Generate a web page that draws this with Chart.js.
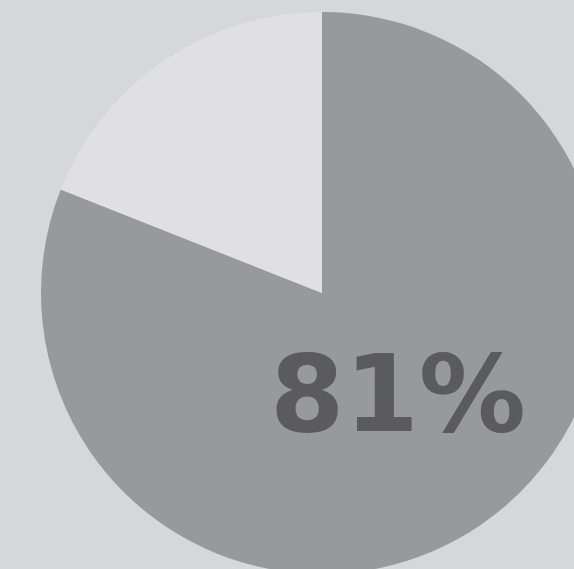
<!DOCTYPE html>
<html>
<head>
<meta charset="utf-8">
<script src="https://cdn.jsdelivr.net/npm/chart.js@4"></script>
<style>
  html, body { margin: 0; padding: 0; }
  body { width: 574px; height: 569px; overflow: hidden; background: #d6d7d8; position: relative; }
  #wrap { position: absolute; left: 41px; top: 12px; width: 562px; height: 562px; }
</style>
</head>
<body>
<div id="wrap"><canvas id="pie" width="562" height="562"></canvas></div>
<script>
var labels = ['Yes', 'No'];
var values = [81, 19];
var colors = ['#98999c', '#e0e0e2'];

// draws the big percentage over the dark slice
var percentLabel = {
  id: 'percentLabel',
  afterDraw: function(chart) {
    var ctx = chart.ctx;
    var text = values[0] + '%';
    ctx.save();
    ctx.font = 'bold 107px "DejaVu Sans", sans-serif';
    ctx.fillStyle = '#5b5b5d';
    ctx.textAlign = 'center';
    ctx.textBaseline = 'alphabetic';
    ctx.fillText(text, 357, 419);
    ctx.restore();
  }
};

var pieChart = new Chart(document.getElementById('pie'), {
  type: 'pie',
  data: {
    labels: labels,
    datasets: [{
      data: values,
      backgroundColor: colors,
      borderWidth: 0
    }]
  },
  options: {
    responsive: false,
    animation: false,
    layout: { padding: 0 },
    plugins: {
      legend: { display: false },
      tooltip: { enabled: false }
    }
  },
  plugins: [percentLabel]
});
</script>
</body>
</html>
